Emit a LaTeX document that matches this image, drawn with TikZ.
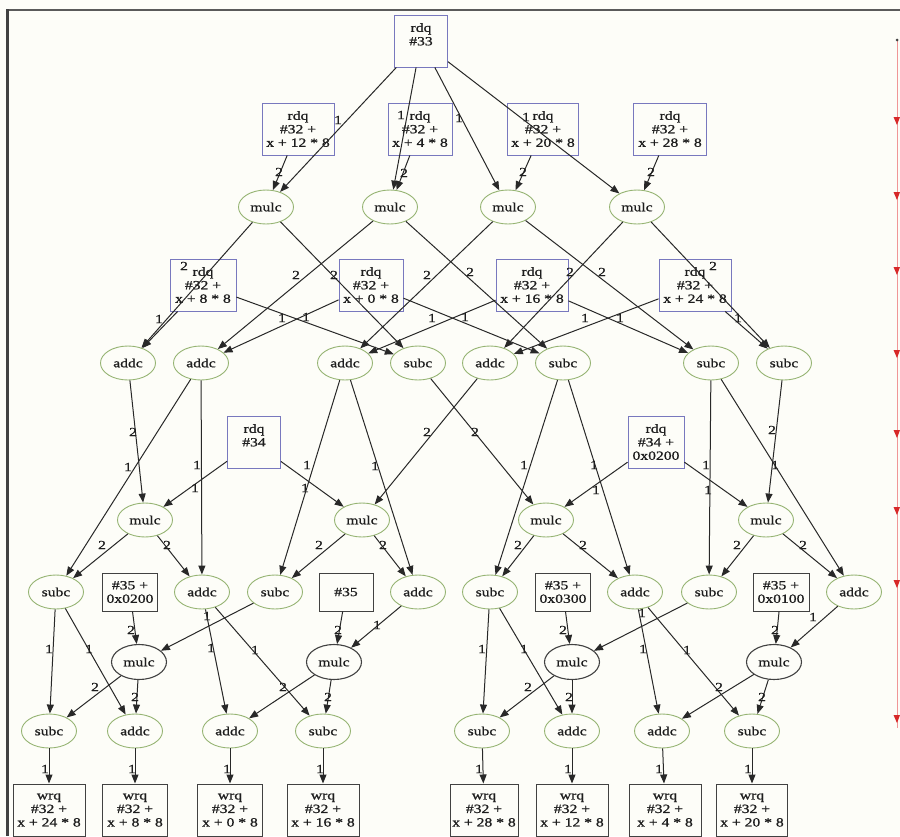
\documentclass[tikz,border=0pt]{standalone}
\usepackage{fontspec}
\newfontfamily\gf{Liberation Serif}[FakeStretch=1.25,FakeBold=1]
\usetikzlibrary{shapes.geometric,arrows.meta}
\definecolor{bgc}{RGB}{253,253,248}
\definecolor{boxblue}{RGB}{120,120,190}
\definecolor{elgreen}{RGB}{150,180,115}
\definecolor{dkgray}{RGB}{65,65,65}
\definecolor{edgec}{RGB}{40,40,40}
\definecolor{txt}{RGB}{30,30,30}
\definecolor{framec}{RGB}{90,90,90}
\definecolor{redl}{RGB}{240,150,150}
\definecolor{redm}{RGB}{215,40,40}
\tikzset{
  gfont/.style={font={\gf\fontsize{12.5}{13.5}\selectfont}, text=txt},
  bx/.style={gfont, rectangle, draw=boxblue, line width=0.9pt, inner sep=0pt, align=center, minimum height=52pt},
  kb/.style={gfont, rectangle, draw=dkgray, line width=1pt, inner sep=0pt, align=center},
  el/.style={gfont, ellipse, draw=elgreen, line width=0.9pt, inner sep=0pt, minimum width=55pt, minimum height=34pt},
  dk/.style={gfont, ellipse, draw=dkgray, line width=1.1pt, inner sep=0pt, minimum width=55pt, minimum height=35pt},
  ed/.style={draw=edgec, line width=1pt, -{Triangle[length=9pt,width=7pt]}},
  lb/.style={gfont, inner sep=0pt}
}
\newcommand\ed[5]{\draw[ed] (#1) -- (#2) node[lb] (l#1#2) at (#4,#5) {#3};}
\begin{document}
\begin{tikzpicture}[x=1pt,y=-1pt]
\clip (0,0) rectangle (900,836);
\fill[bgc] (0,0) rectangle (900,836);
\draw[framec, line width=2pt] (6,9.5) -- (900,9.5);
\draw[dkgray, line width=3pt] (7.5,9) -- (7.5,836);
% right decoration
\draw[redl, line width=0.7pt] (897,40) -- (897,728);
\fill[dkgray] (897,40) circle (1.5pt);
\foreach \yy in {122,197,272,355,435,512,585,720}{
  \fill[redm] (893.5,\yy-5) -- (900,\yy-5) -- (897,\yy+3) -- cycle;
}
% row 0
\node[bx, minimum width=53pt] (A33) at (421,41) {rdq\\\#33\\\mbox{}};
% row 1
\node[bx, minimum width=72pt] (B12) at (298,129) {rdq\\\#32 +\\x + 12 * 8};
\node[bx, minimum width=64pt] (B4)  at (420,129) {rdq\\\#32 +\\x + 4 * 8};
\node[bx, minimum width=71pt] (B20) at (543,129) {rdq\\\#32 +\\x + 20 * 8};
\node[bx, minimum width=73pt] (B28) at (670,129) {rdq\\\#32 +\\x + 28 * 8};
% row 2
\node[el] (M1) at (266,207) {mulc};
\node[el] (M2) at (390,207) {mulc};
\node[el] (M3) at (508,207) {mulc};
\node[el] (M4) at (637,207) {mulc};
% row 3
\node[bx, minimum width=66pt] (C8)  at (203,285) {rdq\\\#32 +\\x + 8 * 8};
\node[bx, minimum width=64pt] (C0)  at (371,285) {rdq\\\#32 +\\x + 0 * 8};
\node[bx, minimum width=72pt] (C16) at (532,285) {rdq\\\#32 +\\x + 16 * 8};
\node[bx, minimum width=72pt] (C24) at (695,285) {rdq\\\#32 +\\x + 24 * 8};
% row 4
\node[el] (D1) at (128,363) {addc};
\node[el] (D2) at (201,363) {addc};
\node[el] (D3) at (345,363) {addc};
\node[el] (D4) at (418,363) {subc};
\node[el] (D5) at (490,363) {addc};
\node[el] (D6) at (563,363) {subc};
\node[el] (D7) at (711,363) {subc};
\node[el] (D8) at (784,363) {subc};
% row 5
\node[bx, minimum width=53pt] (R34)  at (254,442) {rdq\\\#34\\\mbox{}};
\node[bx, minimum width=56pt] (R34b) at (656,442) {rdq\\\#34 +\\0x0200};
% row 6
\node[el] (F1) at (145,520) {mulc};
\node[el] (F2) at (362,520) {mulc};
\node[el] (F3) at (546,520) {mulc};
\node[el] (F4) at (766,520) {mulc};
% row 7
\node[el] (G1) at (56,592) {subc};
\node[kb, minimum width=55pt, minimum height=38pt] (G2) at (130,592) {\#35 +\\0x0200};
\node[el] (G3) at (202,592) {addc};
\node[el] (G4) at (275,592) {subc};
\node[kb, minimum width=54pt, minimum height=38pt] (G5) at (346,592) {\#35};
\node[el] (G6) at (418,592) {addc};
\node[el] (G7) at (490,592) {subc};
\node[kb, minimum width=55pt, minimum height=38pt] (G8) at (563,592) {\#35 +\\0x0300};
\node[el] (G9) at (635,592) {addc};
\node[el] (G10) at (709,592) {subc};
\node[kb, minimum width=56pt, minimum height=38pt] (G11) at (781,592) {\#35 +\\0x0100};
\node[el] (G12) at (854,592) {addc};
% row 8
\node[dk] (H1) at (139,662) {mulc};
\node[dk] (H2) at (334,662) {mulc};
\node[dk] (H3) at (572,662) {mulc};
\node[dk] (H4) at (774,662) {mulc};
% row 9
\node[el] (I1) at (49,731) {subc};
\node[el] (I2) at (135,731) {addc};
\node[el] (I3) at (230,731) {addc};
\node[el] (I4) at (323,731) {subc};
\node[el] (I5) at (482,731) {subc};
\node[el] (I6) at (572,731) {addc};
\node[el] (I7) at (662,731) {addc};
\node[el] (I8) at (752,731) {subc};
% row 10
\node[kb, minimum width=72pt, minimum height=52pt] (W1) at (49,810) {wrq\\\#32 +\\x + 24 * 8};
\node[kb, minimum width=65pt, minimum height=52pt] (W2) at (135,810) {wrq\\\#32 +\\x + 8 * 8};
\node[kb, minimum width=65pt, minimum height=52pt] (W3) at (230,810) {wrq\\\#32 +\\x + 0 * 8};
\node[kb, minimum width=72pt, minimum height=52pt] (W4) at (323,810) {wrq\\\#32 +\\x + 16 * 8};
\node[kb, minimum width=68pt, minimum height=52pt] (W5) at (484,810) {wrq\\\#32 +\\x + 28 * 8};
\node[kb, minimum width=72pt, minimum height=52pt] (W6) at (572,810) {wrq\\\#32 +\\x + 12 * 8};
\node[kb, minimum width=72pt, minimum height=52pt] (W7) at (665,810) {wrq\\\#32 +\\x + 4 * 8};
\node[kb, minimum width=71pt, minimum height=52pt] (W8) at (752,810) {wrq\\\#32 +\\x + 20 * 8};
% edges row 0/1 -> 2
\ed{A33}{M1}{1}{338}{120}
\ed{A33}{M2}{1}{401}{115}
\ed{A33}{M3}{1}{459}{118}
\ed{A33}{M4}{1}{526}{117}
\ed{B12}{M1}{2}{279}{172}
\ed{B4}{M2}{2}{404}{173}
\ed{B20}{M3}{2}{523}{172}
\ed{B28}{M4}{2}{651}{172}
% row 2/3 -> 4
\ed{M1}{D1}{2}{184}{266}
\ed{M1}{D4}{2}{334}{275}
\ed{M2}{D2}{2}{296}{275}
\ed{M2}{D6}{2}{470}{272}
\ed{M3}{D3}{2}{427}{275}
\ed{M3}{D7}{2}{602}{272}
\ed{M4}{D5}{2}{570}{272}
\ed{M4}{D8}{2}{713}{266}
\ed{C8}{D1}{1}{159}{319}
\ed{C8}{D4}{1}{282}{318}
\ed{C0}{D2}{1}{306}{317}
\ed{C0}{D6}{1}{465}{317}
\ed{C16}{D3}{1}{432}{318}
\ed{C16}{D7}{1}{585}{318}
\ed{C24}{D5}{1}{620}{318}
\ed{C24}{D8}{1}{738}{318}
% row 4/5 -> 6/7
\ed{D1}{F1}{2}{133}{432}
\ed{D2}{G1}{1}{128}{467}
\ed{D2}{G3}{1}{197}{465}
\ed{R34}{F1}{1}{195}{488}
\ed{R34}{F2}{1}{305}{488}
\ed{D3}{G4}{1}{307}{465}
\ed{D3}{G6}{1}{375}{466}
\ed{D4}{F3}{2}{475}{432}
\ed{D5}{F2}{2}{427}{432}
\ed{D6}{G7}{1}{524}{465}
\ed{D6}{G9}{1}{594}{465}
\ed{R34b}{F3}{1}{596}{490}
\ed{R34b}{F4}{1}{706}{465}
\ed{D7}{G10}{1}{708}{490}
\ed{D7}{G12}{1}{775}{465}
\ed{D8}{F4}{2}{772}{430}
% row 6 -> 7
\ed{F1}{G1}{2}{102}{545}
\ed{F1}{G3}{2}{167}{545}
\ed{F2}{G4}{2}{319}{545}
\ed{F2}{G6}{2}{383}{545}
\ed{F3}{G7}{2}{518}{545}
\ed{F3}{G9}{2}{583}{545}
\ed{F4}{G10}{2}{737}{545}
\ed{F4}{G12}{2}{803}{545}
% row 7 -> 8/9
\ed{G1}{I1}{1}{49}{649}
\ed{G1}{I2}{1}{89}{649}
\ed{G2}{H1}{2}{131}{630}
\ed{G4}{H1}{1}{207}{616}
\ed{G3}{I3}{1}{211}{648}
\ed{G3}{I4}{1}{255}{650}
\ed{G5}{H2}{2}{338}{630}
\ed{G6}{H2}{1}{377}{625}
\ed{H1}{I1}{2}{95}{687}
\ed{H1}{I2}{2}{135}{697}
\ed{H2}{I3}{2}{283}{687}
\ed{H2}{I4}{2}{328}{697}
\ed{G7}{I5}{1}{482}{649}
\ed{G7}{I6}{1}{524}{649}
\ed{G8}{H3}{2}{563}{630}
\ed{G10}{H3}{1}{642}{613}
\ed{G9}{I7}{1}{643}{649}
\ed{G9}{I8}{1}{687}{650}
\ed{G11}{H4}{2}{775}{630}
\ed{G12}{H4}{1}{813}{617}
\ed{H3}{I5}{2}{528}{687}
\ed{H3}{I6}{2}{569}{697}
\ed{H4}{I7}{2}{719}{687}
\ed{H4}{I8}{2}{762}{697}
% row 9 -> 10
\ed{I1}{W1}{1}{45}{769}
\ed{I2}{W2}{1}{132}{769}
\ed{I3}{W3}{1}{227}{769}
\ed{I4}{W4}{1}{320}{769}
\ed{I5}{W5}{1}{479}{769}
\ed{I6}{W6}{1}{568}{769}
\ed{I7}{W7}{1}{659}{769}
\ed{I8}{W8}{1}{748}{769}
\end{tikzpicture}
\end{document}
